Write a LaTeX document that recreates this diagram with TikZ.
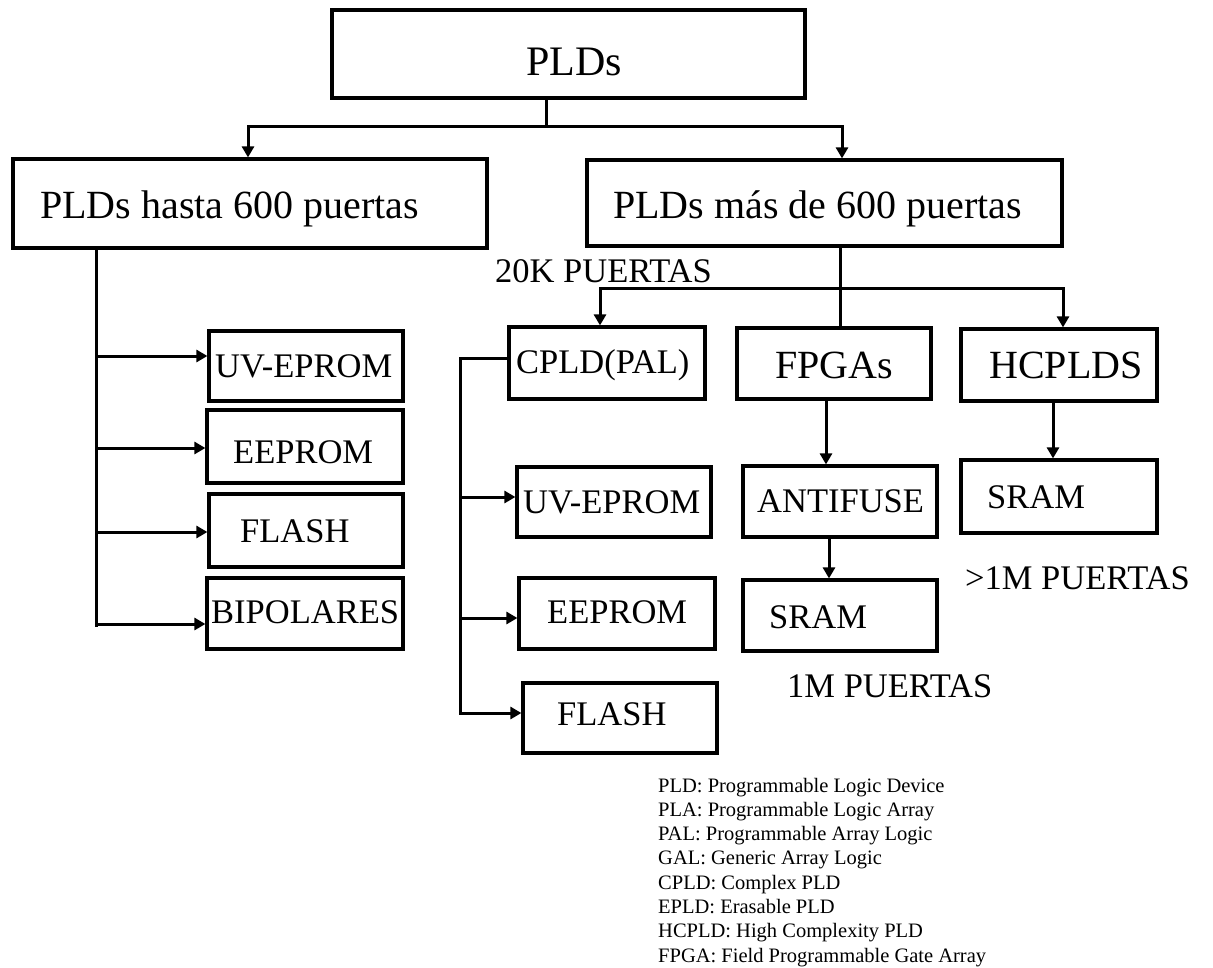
\documentclass[tikz,border=0pt]{standalone}
\usepackage{fontspec}
\setmainfont{Liberation Serif}
\usetikzlibrary{arrows.meta}
\begin{document}
\begin{tikzpicture}[x=1pt,y=-1pt,
  box/.style={draw,line width=3.2pt,inner sep=0pt},
  conn/.style={line width=3pt,line join=miter},
  arr/.style={conn,-{Triangle[length=11pt,width=12pt]}},
  lbl/.style={anchor=base west,inner sep=0pt},
  big/.style={lbl,font=\fontsize{40}{44}\selectfont},
  mid/.style={lbl,font=\fontsize{34.5}{40}\selectfont},
  leg/.style={lbl,font=\fontsize{20.5}{24}\selectfont}]
\fill[white] (0,0) rectangle (1213,967);
\useasboundingbox (0,0) rectangle (1213,967);

% boxes
\node[box,minimum width=473pt,minimum height=88pt] (pld)   at (568.5,54) {};
\node[box,minimum width=474pt,minimum height=89pt] (low)   at (250,203.5) {};
\node[box,minimum width=475pt,minimum height=86pt] (high)  at (824.5,203) {};
\node[box,minimum width=194pt,minimum height=70pt] (uv1)   at (306,366) {};
\node[box,minimum width=196pt,minimum height=73pt] (ee1)   at (305,446.5) {};
\node[box,minimum width=194pt,minimum height=73pt] (fl1)   at (306,530.5) {};
\node[box,minimum width=196pt,minimum height=71pt] (bi1)   at (305,613.5) {};
\node[box,minimum width=196pt,minimum height=72pt] (cpld)  at (607,363) {};
\node[box,minimum width=194pt,minimum height=70pt] (uv2)   at (614,502) {};
\node[box,minimum width=196pt,minimum height=71pt] (ee2)   at (617,613.5) {};
\node[box,minimum width=194pt,minimum height=70pt] (fl2)   at (620,718) {};
\node[box,minimum width=194pt,minimum height=71pt] (fpga)  at (834,363.5) {};
\node[box,minimum width=196pt,minimum height=72pt] (hcpld) at (1059,365) {};
\node[box,minimum width=194pt,minimum height=71pt] (anti)  at (840,501.5) {};
\node[box,minimum width=194pt,minimum height=71pt] (sram1) at (840,615.5) {};
\node[box,minimum width=196pt,minimum height=73pt] (sram2) at (1059,496.5) {};

% box texts
\node[lbl,font=\fontsize{42}{46}\selectfont] (tpld) at (526,75) {PLDs};
\node[big] (tlow)  at (40,218)  {PLDs hasta 600 puertas};
\node[big] (thigh) at (613,218) {PLDs más de 600 puertas};
\node[mid] (tuv1)  at (215,377) {UV-EPROM};
\node[mid] (tee1)  at (233,463) {EEPROM};
\node[mid] (tfl1)  at (240,542) {FLASH};
\node[mid] (tbi1)  at (211,623) {BIPOLARES};
\node[mid] (tcpld) at (516,373) {CPLD(PAL)};
\node[mid] (tuv2)  at (523,513) {UV-EPROM};
\node[mid] (tee2)  at (547,623) {EEPROM};
\node[mid] (tfl2)  at (557,725) {FLASH};
\node[big] (tfpga) at (775,378) {FPGAs};
\node[big] (thc)   at (989,378) {HCPLDS};
\node[mid] (tanti) at (757,512) {ANTIFUSE};
\node[mid] (ts1)   at (769,628) {SRAM};
\node[mid] (ts2)   at (987,508) {SRAM};

% free labels
\node[mid] (k20)  at (495,282) {20K PUERTAS};
\node[mid] (m1)   at (787,697) {1M PUERTAS};
\node[mid] (gm1)  at (965,589) {>1M PUERTAS};

% top split
\coordinate (j0) at (546,126);
\coordinate (jL) at (248,126);
\coordinate (jR) at (842,126);
\draw[arr] (j0 |- pld.south) -- (j0) -- (jL) -- (jL |- low.north);
\draw[arr] (j0) -- (jR) -- (jR |- high.north);

% left trunk
\coordinate (lt) at (96,627);
\coordinate (b1) at (96,356);
\coordinate (b2) at (96,448);
\coordinate (b3) at (96,532);
\coordinate (b4) at (96,624);
\draw[conn] (lt |- low.south) -- (lt);
\draw[arr] (b1) -- (b1 -| uv1.west);
\draw[arr] (b2) -- (b2 -| ee1.west);
\draw[arr] (b3) -- (b3 -| fl1.west);
\draw[arr] (b4) -- (b4 -| bi1.west);

% right split
\coordinate (h0) at (840,288);
\coordinate (hL) at (600,288);
\coordinate (hR) at (1063,288);
\draw[conn] (h0 |- high.south) -- (h0 |- fpga.north);
\draw[arr] (h0) -- (hL) -- (hL |- cpld.north);
\draw[arr] (h0) -- (hR) -- (hR |- hcpld.north);

% CPLD trunk
\coordinate (c0) at (460,358);
\coordinate (c1) at (460,497);
\coordinate (c2) at (460,618);
\coordinate (c3) at (460,713);
\draw[arr] (c0 -| cpld.west) -- (c0) -- (c3) -- (c3 -| fl2.west);
\draw[arr] (c1) -- (c1 -| uv2.west);
\draw[arr] (c2) -- (c2 -| ee2.west);

% FPGA and HCPLD chains
\coordinate (xa) at (826,0);
\coordinate (xs) at (829,0);
\coordinate (xh) at (1053,0);
\draw[arr] (xa |- fpga.south) -- (xa |- anti.north);
\draw[arr] (xs |- anti.south) -- (xs |- sram1.north);
\draw[arr] (xh |- hcpld.south) -- (xh |- sram2.north);

% glossary
\foreach \t [count=\i] in {PLD: Programmable Logic Device,
  PLA: Programmable Logic Array,
  PAL: Programmable Array Logic,
  GAL: Generic Array Logic,
  CPLD: Complex PLD,
  EPLD: Erasable PLD,
  HCPLD: High Complexity PLD,
  FPGA: Field Programmable Gate Array}
  \node[leg] (g\i) at (658,{792+(\i-1)*24.3}) {\t};
\end{tikzpicture}
\end{document}
